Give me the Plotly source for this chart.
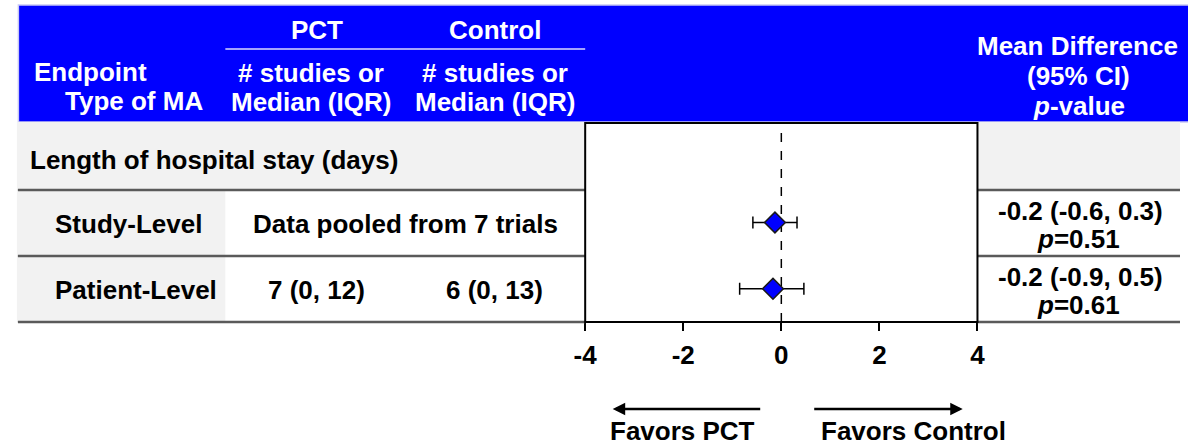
import plotly.graph_objects as go

# ---------------- data ----------------
endpoint = "Length of hospital stay (days)"
ma_types = ["Study-Level", "Patient-Level"]
pct_text = ["", "7 (0, 12)"]
control_text = ["", "6 (0, 13)"]
pooled_note = ["Data pooled from 7 trials", ""]
md_plot = [-0.13, -0.17]
ci_low = [-0.58, -0.85]
ci_high = [0.32, 0.46]
md_label = ["-0.2 (-0.6, 0.3)", "-0.2 (-0.9, 0.5)"]
p_values = ["0.51", "0.61"]
row_y = [1.5, 0.5]
tick_vals = [-4, -2, 0, 2, 4]
tick_text = ["-4", "-2", "0", "2", "4"]

# ---------------- layout helpers ----------------
W, H = 1188, 448
FONT = "Liberation Sans, Arial, sans-serif"
FS = 26
BLUE = "#0000FF"
GRAY = "#F2F2F2"
LINE = "#5a5a5a"


def X(p):
    return p / W


def Y(p):
    return 1 - p / H


box_l, box_r, box_t, box_b = 583, 982, 123, 322
row_lines = [190, 256, 322]

fig = go.Figure()

fig.add_trace(go.Scatter(
    x=md_plot, y=row_y, mode="markers",
    marker=dict(symbol="diamond", size=16, color=BLUE,
                line=dict(color="#1a1a1a", width=1.5)),
    error_x=dict(type="data", symmetric=False,
                 array=[h - m for h, m in zip(ci_high, md_plot)],
                 arrayminus=[m - l for m, l in zip(md_plot, ci_low)],
                 color="black", thickness=1.5, width=6),
    showlegend=False, hoverinfo="skip",
))

shapes = []
# header band
shapes.append(dict(type="rect", xref="paper", yref="paper", x0=X(6.5), x1=1.01,
                   y0=Y(122), y1=Y(5), fillcolor=BLUE,
                   line=dict(color="#c8c8f5", width=1.5), layer="below"))
# underline PCT / Control
shapes.append(dict(type="line", xref="paper", yref="paper", x0=X(217), x1=X(583),
                   y0=Y(49), y1=Y(49), line=dict(color="#d8d8ff", width=1.5)))
# grey backgrounds
shapes.append(dict(type="rect", xref="paper", yref="paper", x0=X(5), x1=X(box_l),
                   y0=Y(190), y1=Y(122), fillcolor=GRAY, line=dict(width=0), layer="below"))
shapes.append(dict(type="rect", xref="paper", yref="paper", x0=X(box_r), x1=1,
                   y0=Y(190), y1=Y(122), fillcolor=GRAY, line=dict(width=0), layer="below"))
shapes.append(dict(type="rect", xref="paper", yref="paper", x0=X(5), x1=X(217),
                   y0=Y(322), y1=Y(190), fillcolor=GRAY, line=dict(width=0), layer="below"))
# row separator lines
for ry in row_lines:
    shapes.append(dict(type="line", xref="paper", yref="paper", x0=X(6), x1=X(box_l),
                       y0=Y(ry), y1=Y(ry), line=dict(color=LINE, width=2.5)))
    shapes.append(dict(type="line", xref="paper", yref="paper", x0=X(box_r), x1=1,
                       y0=Y(ry), y1=Y(ry), line=dict(color=LINE, width=2.5)))
# plot box
shapes.append(dict(type="rect", xref="x domain", yref="y domain", x0=0, x1=1, y0=0, y1=1,
                   line=dict(color="black", width=2)))
# zero line
shapes.append(dict(type="line", xref="x", yref="y domain", x0=0, x1=0, y0=0, y1=1,
                   line=dict(color="black", width=1.5, dash="dash"), layer="below"))

ann = []


def text(x, y, s, color="black", anchor="center", size=FS):
    ann.append(dict(xref="paper", yref="paper", x=X(x), y=Y(y), text=s, showarrow=False,
                    xanchor=anchor, yanchor="middle", align=anchor, borderpad=0,
                    font=dict(family=FONT, size=size, color=color)))


# header texts
text(310, 30, "<b>PCT</b>", "white")
text(491, 30, "<b>Control</b>", "white")
text(21, 72, "<b>Endpoint</b>", "white", "left")
text(53, 101, "<b>Type of MA</b>", "white", "left")
for cx in (304, 491):
    text(cx, 73, "<b># studies or</b>", "white")
    text(cx, 102, "<b>Median (IQR)</b>", "white")
text(1084, 46, "<b>Mean Difference</b>", "white")
text(1085, 76, "<b>(95% CI)</b>", "white")
text(1085, 106, "<b><i>p</i>-value</b>", "white")

# body rows
text(17, 160, "<b>" + endpoint + "</b>", "black", "left")
row_px = [224, 290]
label_cx = [118.5, 126]
line1_y = [211, 277]
line2_y = [239, 305]
for i in range(len(ma_types)):
    yy = row_px[i]
    text(label_cx[i], yy, "<b>" + ma_types[i] + "</b>")
    if pooled_note[i]:
        text(400, yy, "<b>" + pooled_note[i] + "</b>")
    else:
        text(310, yy, "<b>" + pct_text[i] + "</b>")
        text(491, yy, "<b>" + control_text[i] + "</b>")
    text(1087, line1_y[i], "<b>" + md_label[i] + "</b>")
    text(1085, line2_y[i], "<b><i>p</i>=" + p_values[i] + "</b>")

# favors arrows (tail offset given in pixels)
ann.append(dict(xref="paper", yref="paper", x=X(611), y=Y(409), ax=760 - 611, ay=0,
                axref="pixel", ayref="pixel", showarrow=True, arrowhead=2, arrowsize=1,
                arrowwidth=2.5, arrowcolor="black", text=""))
ann.append(dict(xref="paper", yref="paper", x=X(967), y=Y(409), ax=817 - 967, ay=0,
                axref="pixel", ayref="pixel", showarrow=True, arrowhead=2, arrowsize=1,
                arrowwidth=2.5, arrowcolor="black", text=""))
text(682, 431, "<b>Favors PCT</b>")
text(917, 431, "<b>Favors Control</b>")

fig.update_layout(
    width=W, height=H, margin=dict(l=0, r=0, t=0, b=0),
    paper_bgcolor="white", plot_bgcolor="white",
    shapes=shapes, annotations=ann,
    xaxis=dict(domain=[X(box_l), X(box_r)], range=[-4, 4], tickvals=tick_vals,
               ticktext=tick_text, ticks="outside", ticklen=8, tickwidth=1.5,
               tickcolor="black", showgrid=False, zeroline=False, showline=False,
               ticklabelstandoff=2,
               tickfont=dict(family=FONT, size=FS, color="black", weight="bold")),
    yaxis=dict(domain=[Y(box_b), Y(box_t)], range=[0, 3], visible=False,
               showgrid=False, zeroline=False),
)

fig.write_html(
    "out.html",
    config={"displayModeBar": False},
    post_script="document.body.style.margin='0px';document.body.style.padding='0px';"
                "document.body.style.overflow='hidden';",
)
